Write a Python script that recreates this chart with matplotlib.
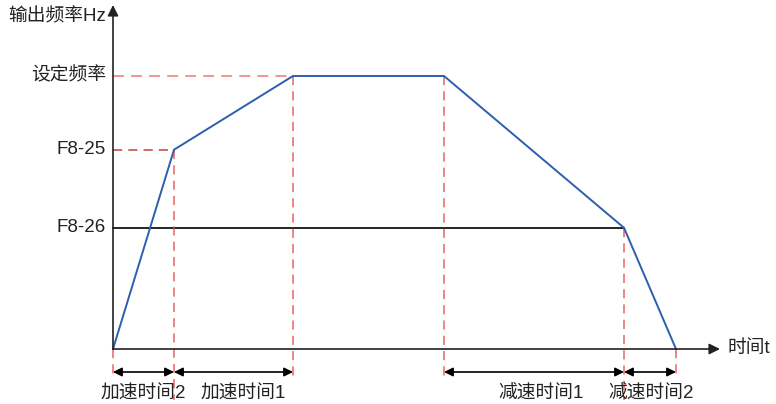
import matplotlib
matplotlib.use("Agg")
import matplotlib.pyplot as plt

plt.rcParams['font.family'] = ['Liberation Sans', 'Noto Sans CJK SC']

# ─── DATA ─────────────────────────────────────────────────────
# time points of the speed profile (arbitrary units) and frequencies (Hz)
T_POINTS   = [0, 6.1, 18.0, 33.1, 51.1, 56.3]
F_POINTS   = [0, 36.5, 50.0, 50.0, 22.2, 0]
F_SET      = 50.0      # 设定频率
F8_25      = 36.5
F8_26      = 22.2
Y_LABELS   = ["设定频率", "F8-25", "F8-26"]
Y_VALUES   = [F_SET, F8_25, F8_26]
SPAN_NAMES = ["加速时间2", "加速时间1", "减速时间1", "减速时间2"]
SPANS      = [(0, 6.1), (6.1, 18.0), (33.1, 51.1), (51.1, 56.3)]
SPAN_TEXT_X = [3.05, 13.05, 42.8, 53.8]
# ──────────────────────────────────────────────────────────────

# pixel scale used to lay out the drawing
PX_T = 10.0     # px per time unit
PX_F = 5.46     # px per Hz
W, H = 776, 404
X0, Y0 = 113, 349   # origin in pixels (from top-left)

BLUE   = "#2c5fae"
RED    = "#e8474a"
PINK   = "#f28a8a"
DARK   = "#222222"

fig = plt.figure(figsize=(W / 100, H / 100), dpi=100)
ax = fig.add_axes([0, 0, 1, 1])
ax.set_xlim(-X0 / PX_T, (W - X0) / PX_T)
ax.set_ylim(-(H - Y0) / PX_F, Y0 / PX_F)
ax.axis("off")

def dy(px):
    # convert a pixel offset below the axis into frequency units
    return -px / PX_F

# axes with arrows
ax.annotate("", xy=(60.7, 0), xytext=(0, 0),
            arrowprops=dict(arrowstyle="-|>", color=DARK, lw=1.2,
                            mutation_scale=16, shrinkA=0, shrinkB=0))
ax.annotate("", xy=(0, 63.0), xytext=(0, 0),
            arrowprops=dict(arrowstyle="-|>", color=DARK, lw=1.2,
                            mutation_scale=16, shrinkA=0, shrinkB=0))

# reference levels
ax.plot([0, T_POINTS[2]], [F_SET, F_SET], color=PINK, lw=1.3, dashes=(6, 4))
ax.plot([0, T_POINTS[1]], [F8_25, F8_25], color="#c84040", lw=1.1, dashes=(6, 4))
ax.plot([0, T_POINTS[4]], [F8_26, F8_26], color="black", lw=1.2)

# vertical dashed markers
drops = [dy(29), dy(51), dy(31), dy(31), dy(51), dy(26)]
for t, f, d in zip(T_POINTS, F_POINTS, drops):
    ax.plot([t, t], [f, d], color=RED, lw=1.1, dashes=(6, 4), alpha=0.85)

# speed profile
ax.plot(T_POINTS, F_POINTS, color=BLUE, lw=1.4, solid_joinstyle="miter")

# span arrows + labels
for (a, b), name, tx in zip(SPANS, SPAN_NAMES, SPAN_TEXT_X):
    ax.annotate("", xy=(b, dy(23)), xytext=(a, dy(23)),
                arrowprops=dict(arrowstyle="<|-|>", color="black", lw=1.2,
                                mutation_scale=13, shrinkA=0, shrinkB=0))
    ax.text(tx, dy(45), name, fontsize=13.5, ha="center", va="center",
            color="#222222")

# y labels
for lab, v in zip(Y_LABELS, Y_VALUES):
    ax.text(-0.7, v, lab, fontsize=13.5, ha="right", va="center", color="#222222")
ax.text(-0.7, 60.8, "输出频率Hz", fontsize=13.5, ha="right", va="center",
        color="#222222")
ax.text(61.4, 0, "时间t", fontsize=13.5, ha="left", va="center", color="#222222")

fig.savefig("out.png", dpi=100)
